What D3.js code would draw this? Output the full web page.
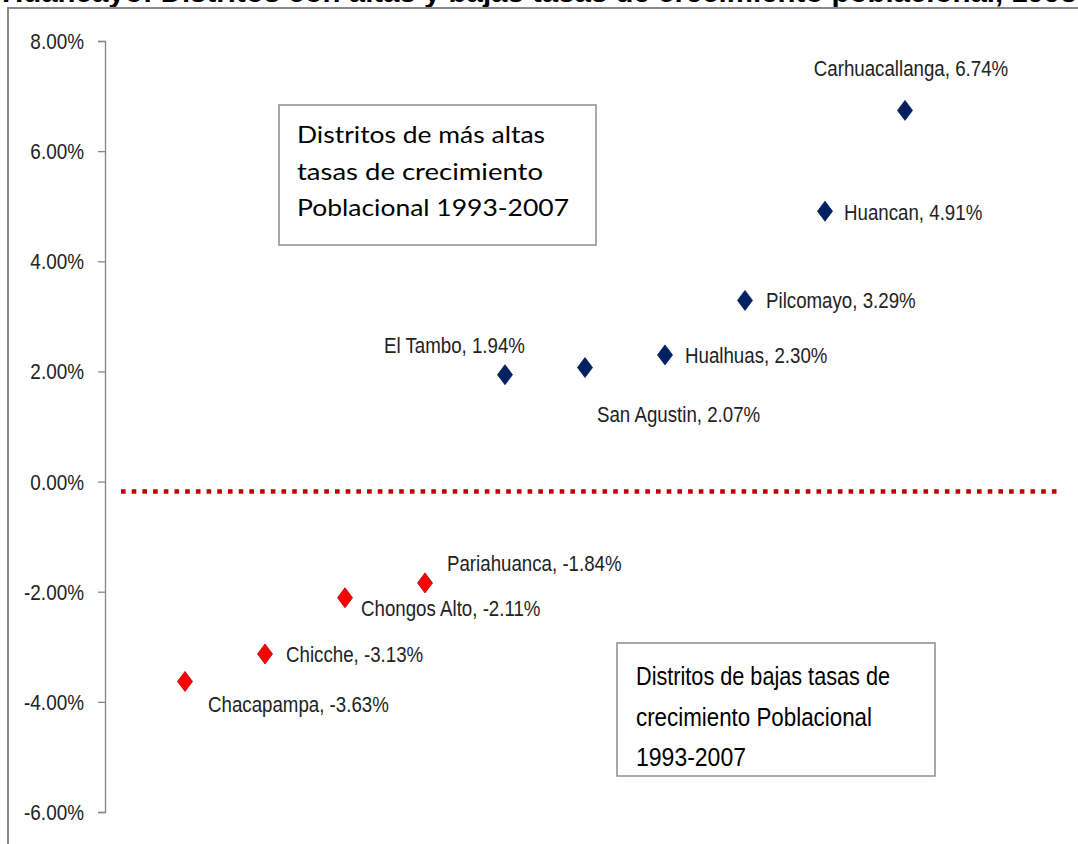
<!DOCTYPE html>
<html><head><meta charset="utf-8">
<script src="https://cdn.jsdelivr.net/npm/d3@7"></script>
<style>
html,body{margin:0;padding:0;background:#fff;}
svg{display:block;}
</style></head>
<body>
<svg id="chart" width="1078" height="844"></svg>
<script>
// ---- data ----
const districts = ["Chacapampa","Chicche","Chongos Alto","Pariahuanca","El Tambo","San Agustin","Hualhuas","Pilcomayo","Huancan","Carhuacallanga"];
const rates = [-3.63,-3.13,-2.11,-1.84,1.94,2.07,2.30,3.29,4.91,6.74];
const groups = ["baja","baja","baja","baja","alta","alta","alta","alta","alta","alta"];
const yTicks = [-6,-4,-2,0,2,4,6,8];
const threshold = -0.18;
const titleText = "Provincia de Huancayo: Distritos con altas y bajas tasas de crecimiento poblacional, 1993-2007";
const boxHigh = ["Distritos de más altas","tasas de crecimiento","Poblacional 1993-2007"];
const boxLow = ["Distritos de bajas tasas de","crecimiento Poblacional","1993-2007"];

// ---- layout ----
const svg = d3.select("#chart");
const x = d3.scaleLinear().domain([0,12]).range([105,1065]);
const y = d3.scaleLinear().domain([-6,8]).range([812,41]);
const colors = {alta:"#002060", baja:"#FF0000"};
const strokes = {alta:"#002060", baja:"#B00000"};
const labelFont = "'Liberation Sans', Arial, sans-serif";
function condense(factor){
  return sel => sel.each(function(){
    const len = this.getComputedTextLength();
    d3.select(this).attr("textLength", len*factor).attr("lengthAdjust","spacingAndGlyphs");
  });
}
// label offsets (dx, dy, anchor) per district
const labelLayout = {
  "Carhuacallanga":[6,-34,"middle"],
  "Huancan":[19,9,"start"],
  "Pilcomayo":[21,8,"start"],
  "Hualhuas":[20,8,"start"],
  "San Agustin":[12,54,"start"],
  "El Tambo":[20,-22,"end"],
  "Pariahuanca":[22,-12,"start"],
  "Chongos Alto":[16,18,"start"],
  "Chicche":[21,8,"start"],
  "Chacapampa":[23,31,"start"]
};

// title (clipped at top, as in the source)
const t = svg.append("text")
  .attr("y", 2)
  .attr("font-family","'Liberation Sans', Arial, sans-serif")
  .attr("font-weight","bold")
  .attr("font-size",20)
  .attr("fill","#000")
  .text(titleText);
{
  const node = t.node();
  const pre = node.getSubStringLength(0, titleText.indexOf("Huancayo"));
  const upto = node.getSubStringLength(0, titleText.indexOf("1993")+4) - pre;
  t.attr("font-size", 20*1075/upto);
  const pre2 = node.getSubStringLength(0, titleText.indexOf("Huancayo"));
  t.attr("x", -pre2 + 2);
}

// outer frame
svg.append("rect").attr("x",8).attr("y",8).attr("width",1200).attr("height",1000)
  .attr("fill","none").attr("stroke","#8a8a8a").attr("stroke-width",2);

// y axis
const fmt = v => (v<0?"-":"") + Math.abs(v).toFixed(2) + "%";
const yAxis = d3.axisLeft(y).tickValues(yTicks).tickFormat(fmt).tickSize(7).tickPadding(14);
const ga = svg.append("g").attr("transform",`translate(${x(0)},0)`).call(yAxis);
ga.select(".domain").attr("stroke","#868686").attr("stroke-width",1.3);
ga.selectAll(".tick line").attr("stroke","#868686").attr("stroke-width",1.3);
ga.selectAll(".tick text").attr("font-family",labelFont).attr("font-size",22).attr("fill","#222")
  .attr("dy","0.34em").call(condense(0.86));

// threshold dotted line
svg.append("line")
  .attr("x1", x(0.2)).attr("x2", x(11.94))
  .attr("y1", y(threshold)).attr("y2", y(threshold))
  .attr("stroke","#C00000").attr("stroke-width",4.5)
  .attr("stroke-dasharray","4.6 6.1");

// text boxes
function box(x0,y0,w,h,lines,font,size,lh,tx,ty,widths){
  const g = svg.append("g");
  g.append("rect").attr("x",x0).attr("y",y0).attr("width",w).attr("height",h)
    .attr("fill","#fff").attr("stroke","#8c8c8c").attr("stroke-width",1.5);
  lines.forEach((l,i)=>{
    const tt = g.append("text").attr("x",tx).attr("y",ty+i*lh)
      .attr("font-family",font).attr("font-size",size).attr("fill","#000").text(l);
    if(widths && widths[i]) tt.attr("textLength",widths[i]).attr("lengthAdjust","spacingAndGlyphs");
  });
}
box(279,105,317,140,boxHigh,"Lato, 'Open Sans', sans-serif",24,36.5,297,143,[248,246,272]);
box(617,643,318,133,boxLow,labelFont,26,40.5,636,685,[254,236,110]);

// points
const pts = districts.map((d,i)=>({name:d, v:rates[i], g:groups[i], xi:i+1}));
const diamond = "M0,-10L7.5,0L0,10L-7.5,0Z";
svg.append("g").selectAll("path").data(pts).join("path")
  .attr("d",diamond)
  .attr("transform",d=>`translate(${x(d.xi)},${y(d.v)})`)
  .attr("fill",d=>colors[d.g]).attr("stroke",d=>strokes[d.g]).attr("stroke-width",0.8);

// labels
svg.append("g").selectAll("text").data(pts).join("text")
  .attr("x",d=>x(d.xi)+labelLayout[d.name][0])
  .attr("y",d=>y(d.v)+labelLayout[d.name][1])
  .attr("text-anchor",d=>labelLayout[d.name][2])
  .attr("font-family",labelFont).attr("font-size",22).attr("fill","#222")
  .text(d=>`${d.name}, ${fmt(d.v)}`)
  .call(condense(0.85));
</script>
</body></html>
